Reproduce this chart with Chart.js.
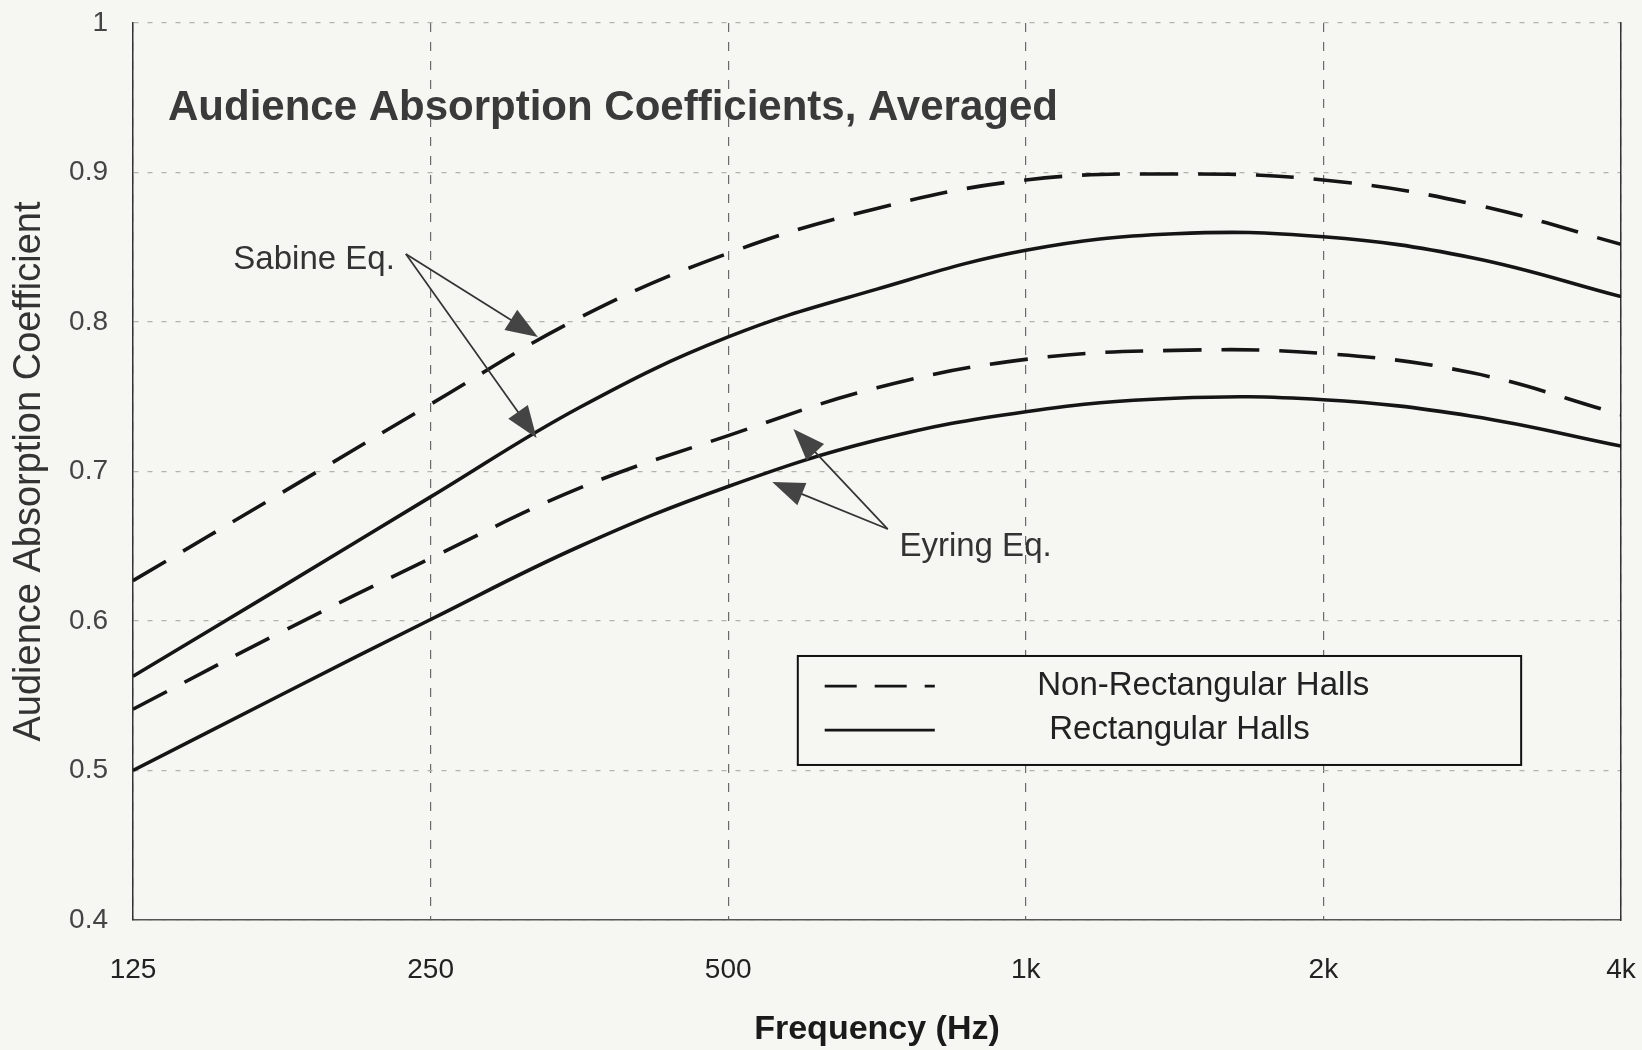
<!DOCTYPE html>
<html>
<head>
<meta charset="utf-8">
<title>Audience Absorption Coefficients, Averaged</title>
<script src="https://cdn.jsdelivr.net/npm/chart.js@4.4.0/dist/chart.umd.min.js"></script>
<style>
  html, body { margin: 0; padding: 0; background: #f6f6f2; overflow: hidden; }
  #chart { display: block; }
</style>
</head>
<body>
<canvas id="chart" width="1642" height="1050"></canvas>
<script>
// frequencies (Hz), half-octave steps
const freqs = [125, 177, 250, 354, 500, 707, 1000, 1414, 2000, 2828, 4000];

// values
const sabineNonRect = [0.627, 0.686, 0.745, 0.803, 0.846, 0.876, 0.895, 0.899, 0.895, 0.879, 0.852];
const sabineRect    = [0.563, 0.623, 0.683, 0.743, 0.790, 0.822, 0.848, 0.859, 0.857, 0.843, 0.817];
const eyringNonRect = [0.541, 0.593, 0.642, 0.689, 0.724, 0.756, 0.775, 0.781, 0.779, 0.766, 0.738];
const eyringRect    = [0.500, 0.551, 0.601, 0.650, 0.690, 0.721, 0.740, 0.749, 0.748, 0.737, 0.717];

// axis ticks
const xTicks = [125, 250, 500, 1000, 2000, 4000];
const xTickLabels = ['125', '250', '500', '1k', '2k', '4k'];
const yTicks = [0.4, 0.5, 0.6, 0.7, 0.8, 0.9, 1];
const yTickLabels = ['0.4', '0.5', '0.6', '0.7', '0.8', '0.9', '1'];

const legendLabels = ['Non-Rectangular Halls', 'Rectangular Halls'];

const bg = '#f6f6f2';
const ink = '#151515';
const dash = [38, 20];
const font = '"Liberation Sans", Arial, sans-serif';

const pts = (ys) => freqs.map((f, i) => ({x: f, y: ys[i]}));

// callouts, in data coordinates (Hz, coefficient)
const notes = [
  {text: 'Sabine Eq.', x: 230, y: 0.8415, align: 'right',
   arrows: [[236, 0.8455, 321, 0.790], [236, 0.8455, 320, 0.7224]]},
  {text: 'Eyring Eq.', x: 745, y: 0.6495, align: 'left',
   arrows: [[725, 0.6615, 582, 0.7284], [725, 0.6615, 554, 0.693]]}
];

function arrow(ctx, x1, y1, x2, y2) {
  const a = Math.atan2(y2 - y1, x2 - x1);
  const len = 32, hw = 12;
  const c = Math.cos(a), s = Math.sin(a);
  ctx.beginPath();
  ctx.moveTo(x1, y1);
  ctx.lineTo(x2 - c * len * 0.8, y2 - s * len * 0.8);
  ctx.stroke();
  ctx.beginPath();
  ctx.moveTo(x2, y2);
  ctx.lineTo(x2 - c * len - s * hw, y2 - s * len + c * hw);
  ctx.lineTo(x2 - c * len + s * hw, y2 - s * len - c * hw);
  ctx.closePath();
  ctx.fill();
}

const extras = {
  id: 'extras',
  beforeDraw(c) {
    const ctx = c.ctx;
    ctx.save();
    ctx.fillStyle = bg;
    ctx.fillRect(0, 0, c.width, c.height);
    ctx.restore();
  },
  afterDraw(c) {
    const ctx = c.ctx, a = c.chartArea;
    const xs = c.scales.x, ys = c.scales.y;
    ctx.save();

    // title inside the plot
    ctx.fillStyle = '#3a3a3a';
    ctx.font = 'bold 42px ' + font;
    ctx.textAlign = 'left';
    ctx.textBaseline = 'middle';
    ctx.fillText('Audience Absorption Coefficients, Averaged', a.left + 35, ys.getPixelForValue(0.943));

    // callouts
    ctx.font = '33px ' + font;
    ctx.fillStyle = '#333';
    ctx.strokeStyle = '#333';
    ctx.lineWidth = 1.7;
    notes.forEach(n => {
      ctx.textAlign = n.align;
      ctx.fillText(n.text, xs.getPixelForValue(n.x), ys.getPixelForValue(n.y));
      ctx.fillStyle = '#444';
      n.arrows.forEach(r => arrow(ctx,
        xs.getPixelForValue(r[0]), ys.getPixelForValue(r[1]),
        xs.getPixelForValue(r[2]), ys.getPixelForValue(r[3])));
      ctx.fillStyle = '#333';
    });

    // legend box
    const l = xs.getPixelForValue(588), r = xs.getPixelForValue(3170);
    const t = ys.getPixelForValue(0.5766), b = ys.getPixelForValue(0.5037);
    ctx.fillStyle = bg;
    ctx.fillRect(l, t, r - l, b - t);
    ctx.strokeStyle = '#111';
    ctx.lineWidth = 2;
    ctx.strokeRect(l, t, r - l, b - t);
    const rows = [ys.getPixelForValue(0.5565), ys.getPixelForValue(0.527)];
    const s1 = xs.getPixelForValue(626), s2 = xs.getPixelForValue(809);
    ctx.strokeStyle = ink;
    ctx.lineWidth = 2.8;
    rows.forEach((yy, i) => {
      ctx.setLineDash(i === 0 ? [32, 18] : []);
      ctx.beginPath();
      ctx.moveTo(s1, yy);
      ctx.lineTo(s2, yy);
      ctx.stroke();
    });
    ctx.setLineDash([]);
    ctx.fillStyle = '#222';
    ctx.textAlign = 'left';
    ctx.font = '33px ' + font;
    ctx.fillText(legendLabels[0], xs.getPixelForValue(1027), rows[0]);
    ctx.fillText(legendLabels[1], xs.getPixelForValue(1056), rows[1]);

    ctx.restore();
  }
};

const lineStyle = (dashed) => ({
  borderColor: ink,
  borderWidth: 3.6,
  borderDash: dashed ? dash : [],
  pointRadius: 0,
  fill: false,
  tension: 0.4
});

new Chart(document.getElementById('chart'), {
  type: 'line',
  data: {
    datasets: [
      Object.assign({label: 'Sabine, ' + legendLabels[0], data: pts(sabineNonRect)}, lineStyle(true)),
      Object.assign({label: 'Sabine, ' + legendLabels[1], data: pts(sabineRect)}, lineStyle(false)),
      Object.assign({label: 'Eyring, ' + legendLabels[0], data: pts(eyringNonRect)}, lineStyle(true)),
      Object.assign({label: 'Eyring, ' + legendLabels[1], data: pts(eyringRect)}, lineStyle(false))
    ]
  },
  options: {
    responsive: false,
    animation: false,
    layout: {padding: 0, autoPadding: false},
    plugins: {legend: {display: false}, tooltip: {enabled: false}},
    scales: {
      x: {
        type: 'logarithmic',
        min: 125,
        max: 4000,
        afterBuildTicks: (s) => { s.ticks = xTicks.map(v => ({value: v})); },
        // tick padding would otherwise be added to the side margins
        afterFit: (s) => { s.height = 130; s.paddingLeft = 0; s.paddingRight = 0; },
        grid: {color: '#6a6a6a', lineWidth: 1.2, drawTicks: false},
        border: {color: '#555', width: 1.5, dash: [9, 10]},
        ticks: {
          padding: 33,
          color: '#222',
          font: {family: font, size: 28},
          callback: (v) => { const i = xTicks.indexOf(v); return i < 0 ? '' : xTickLabels[i]; },
          maxRotation: 0
        },
        title: {
          display: true,
          text: 'Frequency (Hz)',
          color: '#1a1a1a',
          font: {family: font, size: 34, weight: 'bold'},
          padding: {top: 0, bottom: 0}
        }
      },
      // empty top axis: keeps the space above the plot
      xTop: {
        type: 'linear',
        position: 'top',
        afterFit: (s) => { s.height = 23; },
        grid: {display: false},
        border: {display: false},
        ticks: {display: false}
      },
      y: {
        min: 0.4,
        max: 1,
        afterBuildTicks: (s) => { s.ticks = yTicks.map(v => ({value: v})); },
        afterFit: (s) => { s.width = 133; s.paddingTop = 0; s.paddingBottom = 0; },
        grid: {color: '#b3b3ae', lineWidth: 1.2, drawTicks: false},
        border: {color: '#333', width: 1.5, dash: [5, 9]},
        ticks: {
          padding: 25,
          color: '#444',
          font: {family: font, size: 28},
          callback: (v) => { const i = yTicks.indexOf(v); return i < 0 ? '' : yTickLabels[i]; }
        },
        title: {
          display: true,
          text: 'Audience Absorption Coefficient',
          color: '#333',
          font: {family: font, size: 38},
          padding: {top: 7, bottom: 0}
        }
      },
      // empty right axis: its border is the right frame line
      yRight: {
        type: 'linear',
        position: 'right',
        afterFit: (s) => { s.width = 21; },
        grid: {display: false},
        border: {display: true, color: '#333', width: 1.5},
        ticks: {display: false}
      }
    }
  },
  plugins: [extras]
});
</script>
</body>
</html>
